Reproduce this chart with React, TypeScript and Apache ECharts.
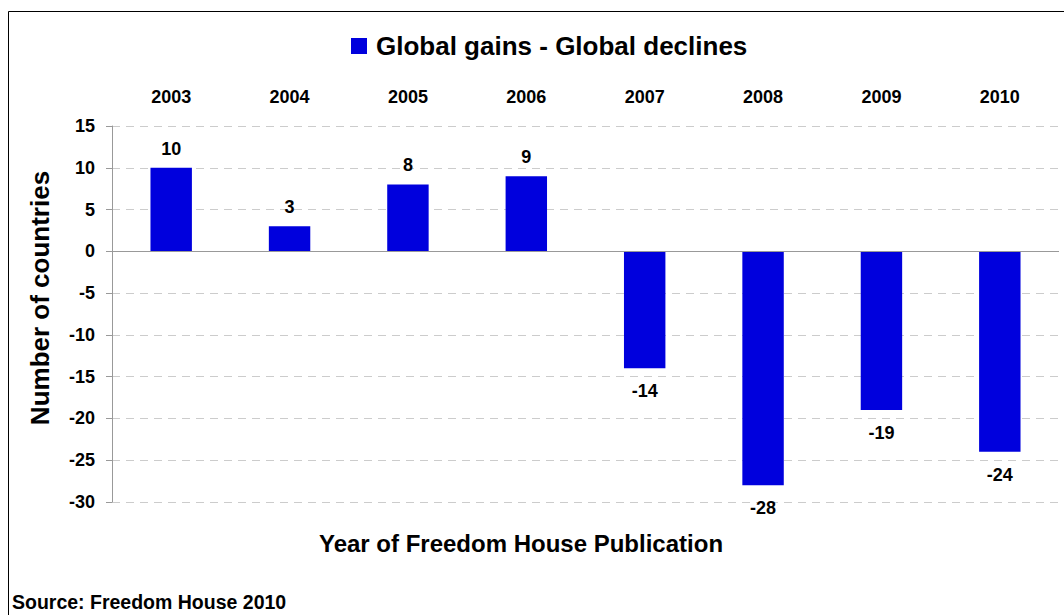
import React, { useEffect, useRef } from "react";
import * as echarts from "echarts";

const years = ["2003", "2004", "2005", "2006", "2007", "2008", "2009", "2010"];
const netChange = [10, 3, 8, 9, -14, -28, -19, -24];
const yTicks = { min: -30, max: 15, interval: 5 };
const seriesName = "Global gains - Global declines";
const yTitle = "Number of countries";
const xTitle = "Year of Freedom House Publication";
const sourceText = "Source: Freedom House 2010";

const FONT = "'Liberation Sans', Arial, sans-serif";

export default function App() {
  const ref = useRef<HTMLDivElement>(null);
  useEffect(() => {
    if (!ref.current) return;
    const chart = echarts.init(ref.current, null, { renderer: "svg" });
    chart.setOption({
      animation: false,
      backgroundColor: "#ffffff",
      textStyle: { fontFamily: FONT },
      legend: {
        top: 28,
        left: 346,
        icon: "rect",
        itemWidth: 16,
        itemHeight: 16,
        itemGap: 8,
        textStyle: { fontSize: 26, fontWeight: "bold", color: "#000", fontFamily: FONT, padding: [0, 0, 0, 4] },
        data: [seriesName],
      },
      grid: { left: 112, right: 5, top: 126, bottom: 113, containLabel: false },
      xAxis: {
        type: "category",
        position: "top",
        data: years,
        axisLine: { show: false },
        axisTick: { show: false },
        axisLabel: { fontSize: 18, fontWeight: "bold", color: "#000", margin: 20, fontFamily: FONT },
      },
      yAxis: {
        type: "value",
        min: yTicks.min,
        max: yTicks.max,
        interval: yTicks.interval,
        axisLine: { show: true, lineStyle: { color: "#999", width: 1 } },
        axisTick: { show: true, length: 6, lineStyle: { color: "#999" } },
        axisLabel: { fontSize: 18, fontWeight: "bold", color: "#000", margin: 17, fontFamily: FONT },
        splitLine: { show: true, lineStyle: { color: "#cccccc", type: [8, 6], width: 1 } },
      },
      series: [
        {
          name: seriesName,
          type: "bar",
          barWidth: "35%",
          itemStyle: { color: "#0000dd" },
          data: netChange.map((v) => ({
            value: v,
            label: {
              show: true,
              position: v >= 0 ? "top" : "bottom",
              distance: v >= 0 ? 10 : 14,
              fontSize: 18,
              fontWeight: "bold",
              color: "#000",
              fontFamily: FONT,
            },
          })),
          markLine: {
            silent: true,
            symbol: "none",
            label: { show: false },
            lineStyle: { color: "#999", type: "solid", width: 1 },
            data: [{ yAxis: 0 }],
          },
        },
      ],
      graphic: [
        {
          type: "rect",
          shape: { x: 8.5, y: 11.5, width: 1100, height: 700 },
          style: { fill: "none", stroke: "#000", lineWidth: 1 },
          silent: true,
          z: 100,
        },
        {
          type: "text",
          x: 40,
          y: 298,
          rotation: Math.PI / 2,
          style: {
            text: yTitle,
            font: `bold 26px ${FONT}`,
            fill: "#000",
            align: "center",
            verticalAlign: "middle",
          },
        },
        {
          type: "text",
          x: 521,
          y: 543,
          style: {
            text: xTitle,
            font: `bold 24px ${FONT}`,
            fill: "#000",
            align: "center",
            verticalAlign: "middle",
          },
        },
        {
          type: "text",
          x: 12,
          y: 602,
          style: {
            text: sourceText,
            font: `bold 19.5px ${FONT}`,
            fill: "#000",
            align: "left",
            verticalAlign: "middle",
          },
        },
      ],
    });
    return () => chart.dispose();
  }, []);
  return (
    <div
      ref={ref}
      style={{ position: "fixed", left: 0, top: 0, width: 1064, height: 615 }}
    />
  );
}
